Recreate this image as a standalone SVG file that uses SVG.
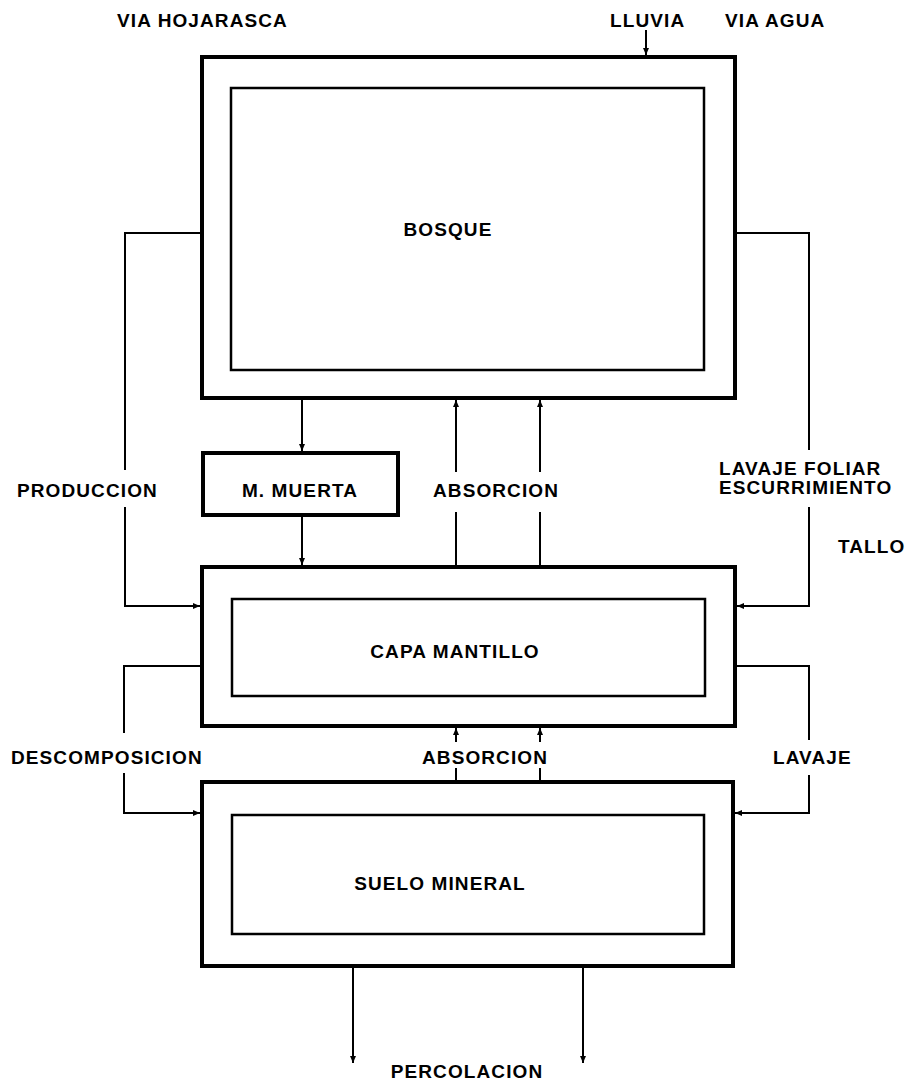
<svg xmlns="http://www.w3.org/2000/svg" width="912" height="1083" viewBox="0 0 912 1083">
<style>
.t{font-family:"Liberation Sans",Arial,sans-serif;font-weight:bold;font-size:19px;letter-spacing:1.1px;fill:#000}
.m{text-anchor:middle}
.o{fill:none;stroke:#000;stroke-width:4}
.i{fill:none;stroke:#000;stroke-width:2.5}
.c{fill:none;stroke:#000;stroke-width:2}
</style>
<defs>
<marker id="a" markerWidth="8" markerHeight="8" refX="7" refY="4" orient="auto" markerUnits="userSpaceOnUse">
<path d="M0,1 L7,4 L0,7 Z" fill="#000"/>
</marker>
</defs>
<rect width="912" height="1083" fill="#fff"/>
<g id="bosque">
<rect class="o" x="202" y="57" width="533" height="341"/>
<rect class="i" x="231" y="88" width="473" height="282"/>
<text class="t m" x="448" y="236">BOSQUE</text>
</g>
<g id="muerta">
<rect class="o" x="203" y="453" width="195" height="62"/>
<text class="t m" x="300" y="497">M. MUERTA</text>
</g>
<g id="capa">
<rect class="o" x="202" y="567" width="533" height="159"/>
<rect class="i" x="232" y="599" width="473" height="97"/>
<text class="t m" x="455" y="658">CAPA MANTILLO</text>
</g>
<g id="suelo">
<rect class="o" x="202" y="782" width="531" height="184"/>
<rect class="i" x="232" y="815" width="472" height="119"/>
<text class="t m" x="440" y="890">SUELO MINERAL</text>
</g>
<g id="labels">
<text class="t" x="117" y="27">VIA HOJARASCA</text>
<text class="t" x="610" y="27">LLUVIA</text>
<text class="t" x="725" y="27">VIA AGUA</text>
<text class="t" x="17" y="497">PRODUCCION</text>
<text class="t m" x="496" y="497">ABSORCION</text>
<text class="t" x="719" y="475">LAVAJE FOLIAR</text>
<text class="t" x="719" y="494">ESCURRIMIENTO</text>
<text class="t" x="838" y="553">TALLO</text>
<text class="t" x="11" y="764">DESCOMPOSICION</text>
<text class="t m" x="485" y="764">ABSORCION</text>
<text class="t" x="773" y="764">LAVAJE</text>
<text class="t m" x="467" y="1078">PERCOLACION</text>
</g>
<g id="connectors">
<path class="c" d="M646,30 V55" marker-end="url(#a)"/>
<path class="c" d="M202,233 H125 V470 M125,507 V606 H200" marker-end="url(#a)"/>
<path class="c" d="M735,233 H809 V450 M809,507 V606 H737" marker-end="url(#a)"/>
<path class="c" d="M302,398 V451" marker-end="url(#a)"/>
<path class="c" d="M302,515 V565" marker-end="url(#a)"/>
<path class="c" d="M456,567 V512 M456,472 V400" marker-end="url(#a)"/>
<path class="c" d="M540,567 V512 M540,472 V400" marker-end="url(#a)"/>
<path class="c" d="M202,666 H124 V733 M124,773 V813 H200" marker-end="url(#a)"/>
<path class="c" d="M735,666 H809 V740 M809,775 V813 H735" marker-end="url(#a)"/>
<path class="c" d="M456,782 V768 M456,742 V728" marker-end="url(#a)"/>
<path class="c" d="M540,782 V768 M540,742 V728" marker-end="url(#a)"/>
<path class="c" d="M353,966 V1063" marker-end="url(#a)"/>
<path class="c" d="M583,966 V1063" marker-end="url(#a)"/>
</g>
</svg>
